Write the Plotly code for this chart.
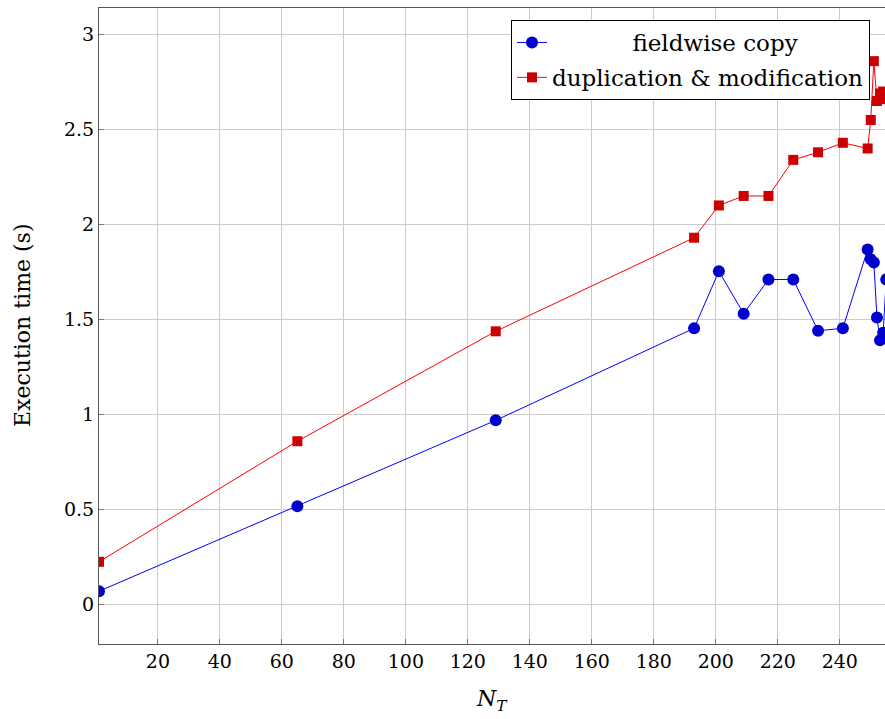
import plotly.graph_objects as go

n_t = [1, 65, 129, 193, 201, 209, 217, 225, 233, 241, 249, 250, 251, 252, 253, 254, 255]
fieldwise = [0.068, 0.516, 0.968, 1.453, 1.753, 1.53, 1.71, 1.71, 1.44, 1.453, 1.868, 1.816, 1.80, 1.51, 1.39, 1.43, 1.71]
duplication = [0.223, 0.858, 1.437, 1.93, 2.10, 2.15, 2.15, 2.34, 2.38, 2.43, 2.40, 2.55, 2.86, 2.65, 2.69, 2.70, 2.66]

x_ticks = [20, 40, 60, 80, 100, 120, 140, 160, 180, 200, 220, 240]
y_ticks = [0, 0.5, 1, 1.5, 2, 2.5, 3]
y_labels = ["0", "0.5", "1", "1.5", "2", "2.5", "3"]

FONT = "DejaVu Serif"
W, H = 885, 719
L, T, B = 99, 8, 644
PW, PH = W - L, B - T
NB = "\u00a0"

fig = go.Figure()
fig.add_trace(go.Scatter(
    x=n_t, y=fieldwise, name=NB * 11 + "fieldwise copy", mode="lines+markers",
    legendgroup="a",
    line=dict(color="#0000FF", width=1),
    marker=dict(symbol="circle", size=12, color="#0000CC", line=dict(width=0)),
))
fig.add_trace(go.Scatter(
    x=n_t, y=duplication, name="duplication &amp; modification", mode="lines+markers",
    legendgroup="b",
    line=dict(color="#FF0000", width=1),
    marker=dict(symbol="square", size=10, color="#CC0000", line=dict(width=0)),
))

axis_common = dict(
    showgrid=True, gridcolor="#cccccc", gridwidth=1,
    showline=True, linecolor="#555555", linewidth=1, mirror=True,
    ticks="inside", ticklen=5, tickcolor="#777777",
    zeroline=False, tickfont=dict(family=FONT, size=19, color="black"),
)

fig.update_layout(
    width=W, height=H,
    margin=dict(l=L, r=0, t=T, b=H - B, autoexpand=False),
    plot_bgcolor="white", paper_bgcolor="white",
    font=dict(family=FONT, size=19, color="black"),
    showlegend=True,
    legend=dict(
        x=(870 - L) / PW, y=1 - (20 - T) / PH, xanchor="right", yanchor="top",
        bordercolor="black", borderwidth=1, bgcolor="white",
        font=dict(family=FONT, size=23), tracegroupgap=2,
    ),
    xaxis=dict(range=[1, 254.6], tickvals=x_ticks, **axis_common),
    yaxis=dict(range=[-0.21, 3.14], tickvals=y_ticks, ticktext=y_labels, **axis_common),
    annotations=[
        dict(text="<i>N</i><sub><i>T</i></sub>", xref="paper", yref="paper",
             x=(492 - L) / PW, y=-(700 - B) / PH, xanchor="center", yanchor="middle",
             showarrow=False, font=dict(family=FONT, size=22)),
        dict(text="Execution time (s)", xref="paper", yref="paper", textangle=-90,
             x=-(L - 22) / PW, y=(B - 326) / PH, xanchor="center", yanchor="middle",
             showarrow=False, font=dict(family=FONT, size=22)),
    ],
)

fig.write_html("out.html", config={"displayModeBar": False},
               post_script="document.body.style.margin='0';document.body.style.overflow='hidden';")
